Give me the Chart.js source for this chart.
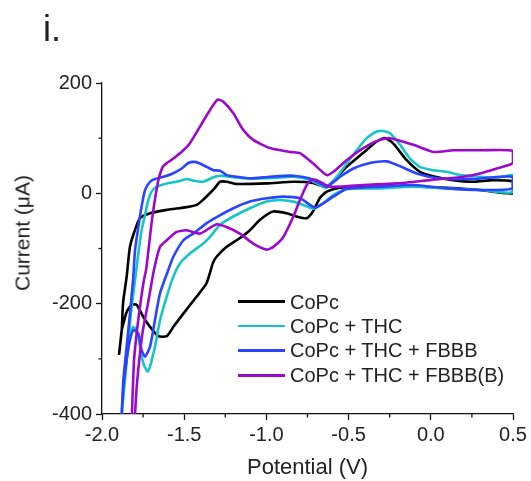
<!DOCTYPE html>
<html><head><meta charset="utf-8">
<script src="https://cdn.jsdelivr.net/npm/chart.js@4.4.0/dist/chart.umd.min.js"></script>
<style>
html,body{margin:0;padding:0;background:#fff;}
#wrap{position:relative;width:531px;height:481px;overflow:hidden;font-family:"Liberation Sans",Arial,sans-serif;color:#222;}
#c{position:absolute;left:0;top:0;}
.t{position:absolute;white-space:nowrap;line-height:1;}
.lg{position:absolute;height:2.6px;width:47px;}
</style></head>
<body>
<div id="wrap">
<canvas id="c" width="531" height="481"></canvas>
<div class="t" style="left:43px;top:11px;font-size:36px;">i.</div>
<div class="t" style="left:22px;top:232.5px;font-size:21px;transform:translate(-50%,-50%) rotate(-90deg);">Current (μA)</div>
<div class="t" style="left:307.5px;top:467px;font-size:22px;transform:translate(-50%,-50%);">Potential (V)</div>
<div id="legend"></div>
</div>
<script>
// ---- data ----
const seriesNames = ["CoPc", "CoPc + THC", "CoPc + THC + FBBB", "CoPc + THC + FBBB(B)"];
const seriesColors = ["#000000", "#17C4C8", "#2B45FF", "#9A0ACD"];

// CoPc: forward (anodic) branch then return (cathodic) branch
const copcV = [-1.897,-1.880,-1.872,-1.850,-1.830,-1.799,-1.769,-1.708,-1.606,-1.485,-1.424,-1.386,-1.355,-1.313,-1.282,-1.241,-1.181,-0.998,-0.838,-0.717,-0.633,-0.512,-0.412,-0.329,-0.279,-0.230,-0.147,-0.066,0.013,0.135,0.257,0.378,0.500,
  0.500,0.299,0.097,-0.047,-0.207,-0.412,-0.552,-0.633,-0.674,-0.717,-0.755,-0.816,-0.877,-0.960,-1.039,-1.100,-1.161,-1.242,-1.303,-1.325,-1.364,-1.424,-1.505,-1.566,-1.606,-1.658,-1.708,-1.749,-1.789,-1.819,-1.850,-1.870,-1.880,-1.895];
const copcI = [-293,-248,-199,-151,-97,-66,-45,-36,-30,-25,-21,-12,-3,10,21,21,17,18,21,19,12,48,73,94,100,91,60,39,31,24,21,24,21,
  0,6,10,12,12,12,10,3,-8,-33,-45,-42,-36,-33,-48,-67,-81,-97,-115,-126,-163,-187,-218,-242,-259,-259,-242,-224,-202,-202,-215,-236,-248,-290];

// CoPc + THC
const thcV = [-1.880,-1.860,-1.842,-1.824,-1.799,-1.779,-1.759,-1.738,-1.718,-1.698,-1.667,-1.606,-1.546,-1.485,-1.445,-1.384,-1.323,-1.282,-1.221,-1.120,-0.958,-0.836,-0.735,-0.674,-0.633,-0.572,-0.512,-0.451,-0.390,-0.329,-0.289,-0.248,-0.187,-0.127,-0.066,0.015,0.097,0.178,0.299,0.401,0.500,
  0.500,0.299,0.097,-0.106,-0.309,-0.512,-0.593,-0.654,-0.715,-0.775,-0.836,-0.917,-0.998,-1.100,-1.201,-1.282,-1.343,-1.384,-1.465,-1.526,-1.566,-1.606,-1.647,-1.678,-1.708,-1.723,-1.749,-1.769,-1.789,-1.810,-1.830,-1.850,-1.870,-1.880];
const thcI = [-400,-338,-275,-217,-157,-109,-67,-39,-12,3,12,18,21,26,23,21,29,32,30,27,28,30,24,15,10,30,54,78,100,112,113,109,88,63,48,42,39,33,30,28,33,
  2,6,9,12,9,8,-3,-18,-28,-21,-15,-12,-15,-27,-42,-57,-79,-91,-109,-127,-151,-187,-230,-278,-314,-323,-308,-278,-248,-242,-260,-302,-351,-400];

// CoPc + THC + FBBB
const fbbbV = [-1.880,-1.870,-1.850,-1.830,-1.811,-1.799,-1.779,-1.759,-1.738,-1.708,-1.678,-1.637,-1.576,-1.515,-1.475,-1.434,-1.404,-1.363,-1.323,-1.282,-1.241,-1.181,-1.100,-0.978,-0.836,-0.735,-0.674,-0.633,-0.552,-0.471,-0.370,-0.268,-0.187,-0.086,0.056,0.259,0.500,
  0.500,0.299,0.097,-0.106,-0.309,-0.512,-0.593,-0.654,-0.704,-0.735,-0.796,-0.897,-0.998,-1.100,-1.201,-1.302,-1.363,-1.445,-1.505,-1.566,-1.597,-1.647,-1.678,-1.708,-1.738,-1.759,-1.779,-1.810,-1.830,-1.850,-1.870,-1.880];
const fbbbI = [-400,-338,-278,-218,-157,-103,-61,-24,6,21,26,29,35,45,55,57,54,48,42,41,33,30,27,30,32,27,18,12,30,45,55,58,49,36,27,26,30,
  9,6,9,15,12,8,-6,-18,-26,-21,-9,-6,-9,-15,-27,-43,-54,-73,-85,-115,-139,-181,-230,-278,-296,-284,-254,-248,-266,-302,-351,-400];

// CoPc + THC + FBBB(B)
const fbbbBV = [-1.818,-1.805,-1.787,-1.766,-1.745,-1.732,-1.714,-1.696,-1.672,-1.653,-1.629,-1.605,-1.566,-1.505,-1.465,-1.404,-1.343,-1.297,-1.262,-1.201,-1.141,-1.080,-0.978,-0.856,-0.796,-0.715,-0.633,-0.593,-0.512,-0.411,-0.309,-0.248,-0.106,0.015,0.137,0.299,0.500,
  0.500,0.401,0.299,0.198,-0.005,-0.207,-0.411,-0.613,-0.694,-0.717,-0.735,-0.755,-0.796,-0.836,-0.897,-0.958,-0.998,-1.080,-1.161,-1.242,-1.303,-1.404,-1.485,-1.546,-1.606,-1.647,-1.684,-1.720,-1.751,-1.769,-1.789,-1.799];
const fbbbBI = [-400,-302,-248,-199,-157,-139,-94,-48,0,29,49,55,63,78,91,121,151,170,166,145,115,97,82,75,73,54,33,39,60,82,97,100,88,75,78,78,77,
  55,45,36,30,24,18,15,12,24,25,22,15,-12,-42,-79,-97,-102,-91,-73,-61,-56,-73,-67,-70,-85,-97,-139,-199,-248,-290,-351,-400];

// axis ticks
const xMajorStep = 0.5, xMin = -2.0, xMax = 0.5;
const yMajorStep = 200, yMin = -400, yMax = 200;
const xMinorTicks = [-1.75,-1.25,-0.75,-0.25,0.25];
const yMinorTicks = [100,-100,-300];

// ---- build ----
const FONT = '"Liberation Sans", Arial, sans-serif';
const pairs = (vs, is) => vs.map((v, k) => ({x: v, y: is[k]}));
const allV = [copcV, thcV, fbbbV, fbbbBV];
const allI = [copcI, thcI, fbbbI, fbbbBI];

const datasets = seriesNames.map((n, k) => ({
  label: n,
  data: pairs(allV[k], allI[k]),
  showLine: true,
  borderColor: seriesColors[k],
  backgroundColor: seriesColors[k],
  borderWidth: 2.6,
  pointRadius: 0,
  tension: 0.2,
  fill: false,
  order: seriesNames.length - k
}));

const minorTicks = {
  id: 'minorTicks',
  afterDraw(chart) {
    const {ctx, chartArea, scales} = chart;
    ctx.save();
    ctx.strokeStyle = '#111';
    ctx.lineWidth = 1.3;
    xMinorTicks.forEach(v => {
      const px = scales.x.getPixelForValue(v);
      ctx.beginPath(); ctx.moveTo(px, chartArea.bottom); ctx.lineTo(px, chartArea.bottom + 3.5); ctx.stroke();
    });
    yMinorTicks.forEach(v => {
      const py = scales.y.getPixelForValue(v);
      ctx.beginPath(); ctx.moveTo(chartArea.left, py); ctx.lineTo(chartArea.left - 3.5, py); ctx.stroke();
    });
    ctx.restore();
  }
};

new Chart(document.getElementById('c'), {
  type: 'scatter',
  data: {datasets},
  options: {
    responsive: false,
    animation: false,
    layout: {padding: {top: 83, right: 18, left: 0, bottom: 0}},
    plugins: {legend: {display: false}, tooltip: {enabled: false}},
    scales: {
      x: {
        type: 'linear', min: xMin, max: xMax,
        ticks: {stepSize: xMajorStep, callback: v => Number(v).toFixed(1), font: {size: 20, family: FONT}, color: '#222', padding: 3, maxRotation: 0, autoSkip: false},
        grid: {display: true, drawOnChartArea: false, drawTicks: true, tickLength: 6, tickColor: '#111', tickWidth: 1.3},
        border: {display: true, color: '#111', width: 1.3},
        afterFit: s => { s.height = 67; }
      },
      y: {
        type: 'linear', min: yMin, max: yMax,
        ticks: {stepSize: yMajorStep, callback: v => String(Math.round(v)), font: {size: 20, family: FONT}, color: '#222', padding: 4, autoSkip: false},
        grid: {display: true, drawOnChartArea: false, drawTicks: true, tickLength: 6, tickColor: '#111', tickWidth: 1.3},
        border: {display: true, color: '#111', width: 1.3},
        afterFit: s => { s.width = 102; }
      }
    }
  },
  plugins: [minorTicks]
});

// legend (HTML)
const legendRows = [301.7, 326, 350.3, 375.3];
const lg = document.getElementById('legend');
seriesNames.forEach((n, k) => {
  const line = document.createElement('div');
  line.className = 'lg';
  line.style.left = '238px';
  line.style.top = (legendRows[k] - 1.3) + 'px';
  line.style.background = seriesColors[k];
  lg.appendChild(line);
  const t = document.createElement('div');
  t.className = 't';
  t.style.left = '290px';
  t.style.top = (legendRows[k] - 10) + 'px';
  t.style.fontSize = '20px';
  t.textContent = n;
  lg.appendChild(t);
});
</script>
</body></html>
